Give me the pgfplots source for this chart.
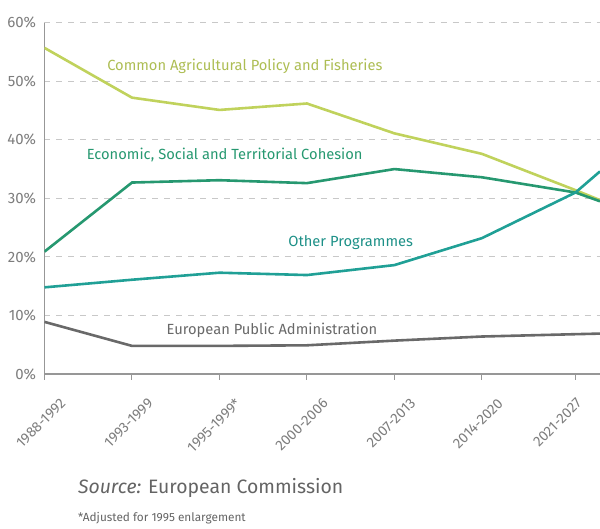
\documentclass[border=0pt]{standalone}
\usepackage{pgfplots}
\pgfplotsset{compat=1.18}
\usepackage{fontspec}
\setmainfont{Fira Sans}
\definecolor{capc}{RGB}{192,210,92}
\definecolor{cohc}{RGB}{38,152,112}
\definecolor{othc}{RGB}{32,160,150}
\definecolor{epac}{RGB}{105,105,105}
\definecolor{txtc}{RGB}{125,125,125}
\definecolor{gridc}{RGB}{200,200,200}
\begin{document}
\begin{tikzpicture}
\begin{axis}[
  scale only axis,
  width=277.75pt, height=175.65pt,
  xmin=0, xmax=6.35, ymin=0, ymax=60,
  axis lines*=left,
  axis line style={draw=txtc!80, line width=0.6pt},
  clip=true,
  xtick={0,1,2,3,4,5},
  xticklabels={1988-1992,1993-1999,1995-1999*,2000-2006,2007-2013,2014-2020},
  xticklabel style={rotate=45, anchor=east, font=\fontsize{7.2}{7.5}\selectfont, text=txtc, inner sep=0pt, xshift=-0.7pt, yshift=-14pt},
  extra x ticks={6.07},
  extra x tick labels={2021-2027},
  extra x tick style={xticklabel style={xshift=-5.3pt, yshift=5.3pt}},
  ytick={0,10,20,30,40,50,60},
  yticklabels={0\%,10\%,20\%,30\%,40\%,50\%,60\%},
  yticklabel style={font=\fontsize{7.5}{8}\selectfont, text=txtc, inner sep=1pt},
  ymajorgrids,
  major grid style={gridc, dashed, line width=0.4pt},
  x tick style={draw=txtc!80, line width=0.5pt},
  major tick length=3pt,
  ytick style={draw=none},
  tick align=outside,
  every axis plot/.append style={line width=1.3pt, mark=none},
]
\addplot[capc] coordinates {(0,55.7) (1,47.2) (2,45.1) (3,46.2) (4,41.1) (5,37.6) (6.07,31.4) (6.35,29.7)};
\addplot[cohc] coordinates {(0,20.9) (1,32.7) (2,33.1) (3,32.6) (4,35.0) (5,33.6) (6.07,31.0) (6.35,29.5)};
\addplot[othc] coordinates {(0,14.8) (1,16.1) (2,17.3) (3,16.9) (4,18.6) (5,23.2) (6.07,31.0) (6.35,34.6)};
\addplot[epac] coordinates {(0,8.9) (1,4.8) (2,4.8) (3,4.9) (4,5.7) (5,6.4) (6.07,6.8) (6.35,6.9)};
\node[font=\fontsize{7.35}{8}\selectfont, text=capc!90!black] at (axis cs:2.29,52.6) {Common Agricultural Policy and Fisheries};
\node[font=\fontsize{7.35}{8}\selectfont, text=cohc] at (axis cs:2.06,37.4) {Economic, Social and Territorial Cohesion};
\node[font=\fontsize{7.35}{8}\selectfont, text=othc!90!black] at (axis cs:3.50,22.5) {Other Programmes};
\node[font=\fontsize{7.35}{8}\selectfont, text=epac] at (axis cs:2.60,7.5) {European Public Administration};
\end{axis}
\node[anchor=west, font=\fontsize{9.7}{10}\selectfont, text=txtc!80!black, inner sep=0pt] at ([shift={(16.6pt,-57pt)}]current axis.south west) {\textit{Source:} European Commission};
\node[anchor=west, font=\fontsize{5.9}{6}\selectfont, text=txtc!80!black, inner sep=0pt] at ([shift={(16.6pt,-72pt)}]current axis.south west) {*Adjusted for 1995 enlargement};
\pgfresetboundingbox
\path[use as bounding box] ([shift={(-22.25pt,-77.5pt)}]current axis.south west) rectangle ([shift={(277.75pt,187pt)}]current axis.south west);
\end{tikzpicture}
\end{document}
